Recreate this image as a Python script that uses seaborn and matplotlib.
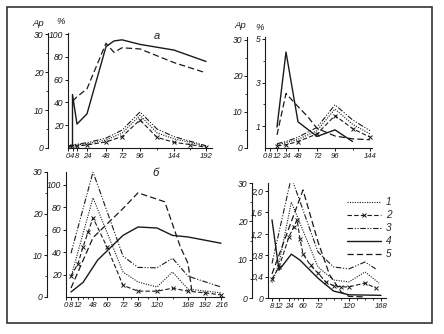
import numpy as np
import matplotlib
matplotlib.use('Agg')
import matplotlib.pyplot as plt
import seaborn as sns
from matplotlib.ticker import FixedLocator, FixedFormatter
from matplotlib.lines import Line2D
from matplotlib.patches import Rectangle

# ---------------- data ----------------
# panel а (top left): hours; series 1-3 in Ap units, 4-5 in %
a_h13 = [0, 4, 8, 24, 48, 72, 96, 120, 144, 168, 192]
a_s1 = [0.3, 0.6, 0.8, 1.1, 2.1, 3.9, 8.6, 4.0, 2.4, 1.5, 0.4]
a_s2 = [0.2, 0.4, 0.5, 0.8, 1.6, 3.0, 7.4, 2.8, 1.5, 0.9, 0.2]
a_s3 = [0.5, 0.8, 1.0, 1.4, 2.6, 4.7, 9.5, 5.0, 3.0, 1.8, 0.6]
a_h4 = [4, 4, 8, 24, 48, 60, 72, 96, 144, 192]
a_s4 = [2, 47, 21, 30, 89, 94, 95, 91, 86, 76]
a_h5 = [4, 8, 24, 48, 60, 72, 96, 144, 192]
a_s5 = [41, 45, 52, 92, 84, 88, 87, 75, 66]

# panel top right
b_h13 = [12, 24, 48, 72, 96, 120, 144]
b_s1 = [0.9, 1.5, 2.4, 4.8, 10.8, 6.6, 3.9]
b_s2 = [0.6, 0.9, 1.8, 3.9, 9.0, 5.4, 3.0]
b_s3 = [1.2, 1.8, 3.0, 5.7, 12.0, 7.8, 4.8]
b_h4 = [12, 24, 48, 72, 96, 120]
b_s4 = [0.96, 4.4, 1.2, 0.53, 0.83, 0.3]
b_h5 = [12, 24, 48, 60, 72, 96, 120, 144]
b_s5 = [0.6, 2.5, 1.9, 1.45, 0.9, 0.55, 0.42, 0.38]

# panel б (bottom left)
c_h13 = [8, 48, 72, 96, 120, 144, 168, 216]
c_s1 = [4.8, 23.8, 6.0, 3.6, 2.4, 6.0, 1.9, 1.0]
c_s3 = [10.5, 30.0, 9.8, 7.1, 7.0, 9.3, 5.0, 2.4]
c_h2 = [8, 12, 24, 36, 48, 60, 72, 96, 120, 144, 168, 192, 216]
c_s2 = [5.0, 8.0, 12.0, 15.5, 19.0, 12.0, 2.8, 1.4, 1.4, 2.1, 1.4, 1.0, 0.5]
c_h4 = [8, 24, 52, 72, 96, 120, 144, 168, 216]
c_s4 = [4.5, 13, 33, 55, 62.5, 61.6, 55, 53.6, 48]
c_h5 = [8, 48, 72, 96, 132, 156, 168, 174]
c_s5 = [8, 53, 79, 93, 85, 45, 30, 3]

# panel bottom right
d_h1 = [8, 12, 30, 72, 96, 120, 144, 165]
d_s1 = [4.0, 9.0, 25.0, 8.1, 4.7, 4.2, 6.8, 3.9]
d_h2 = [8, 12, 24, 36, 45, 52, 60, 66, 72, 84, 96, 108, 120, 144, 160]
d_s2 = [5.0, 8.0, 16.0, 18.5, 20.4, 15.5, 11.5, 8.5, 6.5, 4.2, 3.2, 2.9, 2.9, 3.9, 2.6]
d_h3 = [8, 30, 72, 96, 120, 144, 160]
d_s3 = [9.0, 31.5, 12.0, 8.1, 7.6, 9.4, 7.6]
d_h4 = [8, 12, 30, 52, 72, 96, 120, 168]
d_s4 = [1.46, 0.52, 0.82, 0.71, 0.37, 0.13, 0.06, 0.05]
d_h5 = [8, 60, 72, 90, 108, 120, 144]
d_s5 = [0.45, 2.02, 1.05, 0.43, 0.11, 0.03, 0.02]

legend_labels = ['1', '2', '3', '4', '5']

# ---------------- styles ----------------
sns.set_theme(style='white')
plt.rcParams['font.family'] = ['Liberation Sans', 'DejaVu Sans']
plt.rcParams['font.style'] = 'italic'
INK = '#1a1a1a'
STY = {
    1: dict(linestyle=(0, (1, 1.2)), lw=0.8),
    2: dict(linestyle=(0, (4, 2)), lw=0.8, marker='x', ms=3, mew=0.7),
    3: dict(linestyle=(0, (5, 1.5, 1, 1.5, 1, 1.5)), lw=0.8),
    4: dict(linestyle='-', lw=1.0),
    5: dict(linestyle=(0, (5, 2.5)), lw=0.9),
}

W, H = 444, 334
fig = plt.figure(figsize=(W / 100, H / 100), dpi=100)
fig.patch.set_facecolor('white')
fig.patches.append(Rectangle((7 / W, 1 - 323 / H), 425 / W, 316 / H,
                             transform=fig.transFigure, fill=False,
                             edgecolor='#333333', lw=1.2))

FS = 6.2
XFS = 5.6


def line(axx, x, y, k):
    s = STY[k]
    sns.lineplot(x=x, y=y, ax=axx, color=INK, estimator=None, sort=False,
                 linestyle=s['linestyle'], linewidth=s['lw'],
                 marker=s.get('marker'), markersize=s.get('ms', 0),
                 markeredgewidth=s.get('mew', 0), markeredgecolor=INK)


def panel(L, R, T, B, hmap, pmap, xmaj, xlab, xmin_t, plim, pmaj, plab, pmin,
          aplim, apmaj, aplab, apmin, apoff):
    ax = fig.add_axes([L / W, 1 - B / H, (R - L) / W, (B - T) / H])
    hm = np.array(hmap, float)
    pm = np.array(pmap, float)
    fwd = lambda h: np.interp(h, hm, pm)
    inv = lambda p: np.interp(p, pm, hm)
    ax.set_xscale('function', functions=(fwd, inv))
    tw = ax.twinx()
    for a_ in (ax, tw):
        a_.set_facecolor('none')
        for sp in a_.spines.values():
            sp.set_visible(False)
            sp.set_color(INK)
            sp.set_linewidth(0.8)
    ax.spines['left'].set_visible(True)
    ax.spines['bottom'].set_visible(True)
    tw.spines['left'].set_visible(True)
    tw.spines['left'].set_position(('outward', apoff * 0.72))
    tw.yaxis.tick_left()
    ax.set_ylim(*plim)
    tw.set_ylim(*aplim)
    ax.xaxis.set_major_locator(FixedLocator(xmaj))
    ax.xaxis.set_major_formatter(FixedFormatter(xlab))
    ax.xaxis.set_minor_locator(FixedLocator(xmin_t))
    ax.yaxis.set_major_locator(FixedLocator(pmaj))
    ax.yaxis.set_major_formatter(FixedFormatter(plab))
    ax.yaxis.set_minor_locator(FixedLocator(pmin))
    tw.yaxis.set_major_locator(FixedLocator(apmaj))
    tw.yaxis.set_major_formatter(FixedFormatter(aplab))
    tw.yaxis.set_minor_locator(FixedLocator(apmin))
    for a_ in (ax, tw):
        a_.tick_params(which='major', direction='out', length=2.5, width=0.7,
                       color=INK, labelsize=FS, labelcolor=INK, pad=1.0,
                       left=True, bottom=(a_ is ax))
        a_.tick_params(which='minor', direction='out', length=1.6, width=0.6,
                       color=INK, left=True, bottom=(a_ is ax))
        a_.grid(False)
    ax.tick_params(axis='x', labelsize=XFS)
    tw.tick_params(right=False, labelright=False, labelleft=True)
    return ax, tw, fwd, inv


def finish(ax, tw, inv, L, R, xl=None):
    lo = inv(L) if xl is None else xl
    ax.set_xlim(lo, inv(R))
    for a_ in (ax, tw):
        a_.set_xlabel('')
        a_.set_ylabel('')


# ---- panel а ----
L, R, T, B = 68, 212, 33, 148
ax, tw, fwd, inv = panel(L, R, T, B,
                         [-20, 0, 4, 8, 24, 48, 72, 96, 144, 192, 260],
                         [48, 68, 72.5, 77, 87, 106, 122, 140, 174, 206, 250],
                         [0, 4, 8, 24, 48, 72, 96, 144, 192],
                         ['0', '4', '8', '24', '48', '72', '96', '144', '192'],
                         [120, 168],
                         (0, 101), [20, 40, 60, 80, 100], ['20', '40', '60', '80', '100'], [],
                         (0, 30.3), [0, 10, 20, 30], ['0', '10', '20', '30'], [5, 15, 25], 20)
line(tw, a_h13, a_s1, 1)
line(tw, a_h13, a_s2, 2)
line(tw, a_h13, a_s3, 3)
line(ax, a_h4, a_s4, 4)
line(ax, a_h5, a_s5, 5)
finish(ax, tw, inv, L, R, xl=0)
fig.text(157 / W, 1 - 36 / H, 'а', fontsize=8, ha='center', va='center', color=INK)
fig.text(38 / W, 1 - 23 / H, 'Ap', fontsize=FS + 0.6, ha='center', va='center', color=INK)
fig.text(61 / W, 1 - 22 / H, '%', fontsize=FS + 0.6, ha='center', va='center', color=INK)

# ---- panel top right ----
L, R, T, B = 265, 372, 37, 148
ax, tw, fwd, inv = panel(L, R, T, B,
                         [-20, 0, 8, 12, 24, 48, 72, 96, 144, 200],
                         [245, 265, 270, 277, 286, 298, 317, 335, 370, 410],
                         [0, 8, 12, 24, 48, 72, 96, 144],
                         ['0', '8', '12', '24', '48', '72', '96', '144'],
                         [120],
                         (0, 5.09), [1, 3, 5], ['1', '3', '5'], [2, 4],
                         (0, 30.8), [0, 10, 20, 30], ['0', '10', '20', '30'], [5, 15, 25], 18)
line(tw, b_h13, b_s1, 1)
line(tw, b_h13, b_s2, 2)
line(tw, b_h13, b_s3, 3)
line(ax, b_h4, b_s4, 4)
line(ax, b_h5, b_s5, 5)
finish(ax, tw, inv, L, R, xl=0)
fig.text(240 / W, 1 - 25 / H, 'Ap', fontsize=FS + 0.6, ha='center', va='center', color=INK)
fig.text(260 / W, 1 - 27 / H, '%', fontsize=FS + 0.6, ha='center', va='center', color=INK)

# ---- panel б ----
L, R, T, B = 66, 224, 172, 297
ax, tw, fwd, inv = panel(L, R, T, B,
                         [-20, 0, 8, 12, 48, 60, 72, 96, 120, 168, 192, 216, 260],
                         [46, 66, 71, 78, 93, 107, 123, 138, 157, 188, 205, 221, 250],
                         [0, 8, 12, 48, 60, 72, 96, 120, 168, 192, 216],
                         ['0', '8', '12', '48', '60', '72', '96', '120', '168', '192', '216'],
                         [24, 36, 84, 108, 144],
                         (0, 111.6), [20, 40, 60, 80, 100], ['20', '40', '60', '80', '100'], [],
                         (0, 30), [0, 10, 20, 30], ['0', '10', '20', '30'], [5, 15, 25], 19)
line(tw, c_h13, c_s1, 1)
line(tw, c_h2, c_s2, 2)
line(tw, c_h13, c_s3, 3)
line(ax, c_h4, c_s4, 4)
line(ax, c_h5, c_s5, 5)
finish(ax, tw, inv, L, R, xl=0)
fig.text(156 / W, 1 - 173 / H, 'б', fontsize=8, ha='center', va='center', color=INK)

# ---- panel bottom right ----
L, R, T, B = 268, 386, 183, 298
ax, tw, fwd, inv = panel(L, R, T, B,
                         [-20, 0, 8, 12, 24, 60, 72, 120, 168, 220],
                         [250, 266, 272, 279, 289, 303, 318, 349, 381, 415],
                         [8, 12, 24, 60, 72, 120, 168],
                         ['8', '12', '24', '60', '72', '120', '168'],
                         [36, 48, 84, 96, 108, 132, 144, 156],
                         (0, 2.15), [0, 0.4, 0.8, 1.2, 1.6, 2.0],
                         ['0', '0,4', '0,8', '1,2', '1,6', '2,0'], [],
                         (0, 30), [0, 10, 20, 30], ['0', '10', '20', '30'], [5, 15, 25], 16)
line(tw, d_h1, d_s1, 1)
line(tw, d_h2, d_s2, 2)
line(tw, d_h3, d_s3, 3)
line(ax, d_h4, d_s4, 4)
line(ax, d_h5, d_s5, 5)
finish(ax, tw, inv, L, R)

handles = []
for k in range(1, 6):
    s = STY[k]
    handles.append(Line2D([0], [0], color=INK, linestyle=s['linestyle'], lw=s['lw'],
                          marker=s.get('marker'), ms=s.get('ms', 0), mew=s.get('mew', 0)))
fig.legend(handles, legend_labels, loc='upper left',
           bbox_to_anchor=(347 / W, 1 - 197 / H), bbox_transform=fig.transFigure,
           frameon=False, fontsize=FS + 1, handlelength=3.4, handletextpad=0.5,
           labelspacing=0.3, numpoints=1, borderpad=0, borderaxespad=0)

fig.savefig('out.png', dpi=100, facecolor='white')
